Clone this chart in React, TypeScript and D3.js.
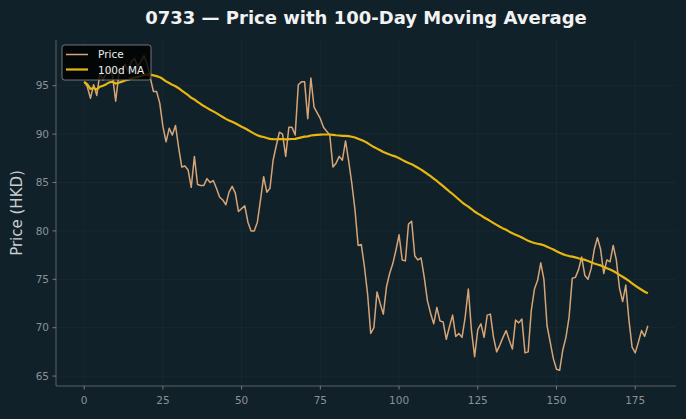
import React from "react";
import * as d3 from "d3";

// Daily closing prices (HKD), trading-day index 0..179
const prices: number[] = [
  95.4, 94.9, 93.7, 95.1, 94.0, 96.3, 95.6, 96.3, 96.8, 96.0,
  93.4, 96.2, 96.8, 97.2, 96.5, 97.5, 97.8, 97.0, 97.5, 98.1,
  97.2, 95.8, 94.4, 94.4, 93.2, 90.8, 89.2, 90.6, 89.9, 90.9,
  88.6, 86.6, 86.7, 86.3, 84.5, 87.7, 84.8, 84.7, 84.7, 85.4,
  85.0, 85.2, 84.4, 83.5, 83.2, 82.7, 84.0, 84.6, 83.9, 82.0,
  82.3, 82.6, 80.9, 80.0, 80.0, 80.9, 83.2, 85.6, 84.0, 84.4,
  87.3, 88.8, 90.2, 90.0, 87.7, 90.7, 90.7, 89.9, 95.1, 95.4,
  95.4, 91.6, 95.8, 92.8, 92.2, 91.6, 90.7, 90.3, 89.9, 86.6,
  87.0, 87.7, 87.3, 89.3, 87.2, 84.9, 82.2, 78.5, 78.6, 76.3,
  73.5, 69.4, 70.0, 73.7, 72.5, 71.4, 74.2, 75.6, 76.6, 78.0,
  79.6, 77.0, 76.9, 80.7, 81.0, 77.4, 77.0, 77.2, 75.2, 72.8,
  71.5, 70.4, 72.1, 70.7, 70.6, 68.8, 70.1, 71.3, 69.1, 69.4,
  69.0, 71.1, 74.0, 69.7, 67.0, 69.8, 70.4, 69.0, 71.3, 71.4,
  69.0, 67.5, 68.2, 69.0, 69.7, 68.7, 67.8, 70.8, 70.5, 70.9,
  67.4, 67.5, 71.8, 74.0, 74.9, 76.7, 75.0, 70.2, 68.5, 66.8,
  65.7, 65.6, 67.7, 69.0, 71.1, 75.1, 75.2, 76.0, 77.3, 75.4,
  75.0, 76.1, 78.1, 79.3, 78.1, 75.6, 77.0, 76.8, 78.5, 77.0,
  74.1, 72.7, 74.4, 70.8, 68.0, 67.4, 68.5, 69.7, 69.1, 70.2,
];

const MA_WINDOW = 100;
const xTicks: number[] = [0, 25, 50, 75, 100, 125, 150, 175];
const yTicks: number[] = [65, 70, 75, 80, 85, 90, 95];

const TITLE = "0733 \u2014 Price with 100-Day Moving Average";
const Y_LABEL = "Price (HKD)";
const LEGEND_LABELS = ["Price", "100d MA"];

// Trailing moving average, using whatever history is available at the start
const movingAvg: number[] = prices.map((_, i) =>
  d3.mean(prices.slice(Math.max(0, i - MA_WINDOW + 1), i + 1)) as number
);

const W = 686;
const H = 419;
const M = { left: 56, right: 676, top: 40, bottom: 386 };

const BG = "#11212a";
const GRID = "rgba(255,255,255,0.045)";
const AXIS = "#5a6166";
const TICK_TEXT = "#8b9196";
const PRICE_COLOR = "#d5a577";
const MA_COLOR = "#e8b70f";
const FONT = "'DejaVu Sans', sans-serif";

export default function App() {
  const n = prices.length;
  const xPad = (n - 1) * 0.05;
  const x = d3.scaleLinear().domain([-xPad, n - 1 + xPad]).range([M.left, M.right]);

  const lo = Math.min(d3.min(prices)!, d3.min(movingAvg)!);
  const hi = Math.max(d3.max(prices)!, d3.max(movingAvg)!);
  const yPad = (hi - lo) * 0.05;
  const y = d3.scaleLinear().domain([lo - yPad, hi + yPad]).range([M.bottom, M.top]);

  const line = d3
    .line<number>()
    .x((_, i) => x(i))
    .y((d) => y(d));

  return (
    <svg
      width={W}
      height={H}
      style={{ position: "absolute", left: 0, top: 0, display: "block" }}
      fontFamily={FONT}
    >
      <rect x={0} y={0} width={W} height={H} fill={BG} />

      {/* grid */}
      {xTicks.map((t) => (
        <line key={"gx" + t} x1={x(t)} x2={x(t)} y1={M.top} y2={M.bottom} stroke={GRID} strokeWidth={0.8} />
      ))}
      {yTicks.map((t) => (
        <line key={"gy" + t} x1={M.left} x2={M.right} y1={y(t)} y2={y(t)} stroke={GRID} strokeWidth={0.8} />
      ))}

      {/* series */}
      <path d={line(prices) ?? ""} fill="none" stroke={PRICE_COLOR} strokeWidth={1.5} strokeLinejoin="round" />
      <path d={line(movingAvg) ?? ""} fill="none" stroke={MA_COLOR} strokeWidth={2.2} strokeLinejoin="round" />

      {/* axes */}
      <line x1={M.left} x2={M.left} y1={M.top} y2={M.bottom} stroke={AXIS} strokeWidth={1} />
      <line x1={M.left} x2={M.right} y1={M.bottom} y2={M.bottom} stroke={AXIS} strokeWidth={1} />
      {xTicks.map((t) => (
        <g key={"tx" + t}>
          <line x1={x(t)} x2={x(t)} y1={M.bottom} y2={M.bottom + 3.5} stroke={TICK_TEXT} strokeWidth={0.8} />
          <text x={x(t)} y={M.bottom + 17.5} textAnchor="middle" fontSize={10.5} fill={TICK_TEXT}>
            {t}
          </text>
        </g>
      ))}
      {yTicks.map((t) => (
        <g key={"ty" + t}>
          <line x1={M.left - 3.5} x2={M.left} y1={y(t)} y2={y(t)} stroke={TICK_TEXT} strokeWidth={0.8} />
          <text x={M.left - 7} y={y(t)} dy="0.35em" textAnchor="end" fontSize={10.5} fill={TICK_TEXT}>
            {t}
          </text>
        </g>
      ))}

      {/* labels */}
      <text x={(M.left + M.right) / 2} y={24} textAnchor="middle" fontSize={18} fontWeight="bold" fill="#f2f2f2">
        {TITLE}
      </text>
      <text
        transform={`translate(22,${(M.top + M.bottom) / 2}) rotate(-90)`}
        textAnchor="middle"
        fontSize={15}
        fill="#c9cdd0"
      >
        {Y_LABEL}
      </text>

      {/* legend */}
      <g transform="translate(62,45)">
        <rect x={0} y={0} width={89} height={35} rx={2.5} fill="rgba(0,0,0,0.82)" stroke="#8a8f93" strokeWidth={0.8} />
        <line x1={4} x2={26} y1={9.5} y2={9.5} stroke={PRICE_COLOR} strokeWidth={1.5} />
        <text x={36} y={13} fontSize={10.5} fill="#eeeeee">
          {LEGEND_LABELS[0]}
        </text>
        <line x1={4} x2={26} y1={24.5} y2={24.5} stroke={MA_COLOR} strokeWidth={2.2} />
        <text x={36} y={28.5} fontSize={10.5} fill="#eeeeee">
          {LEGEND_LABELS[1]}
        </text>
      </g>
    </svg>
  );
}
